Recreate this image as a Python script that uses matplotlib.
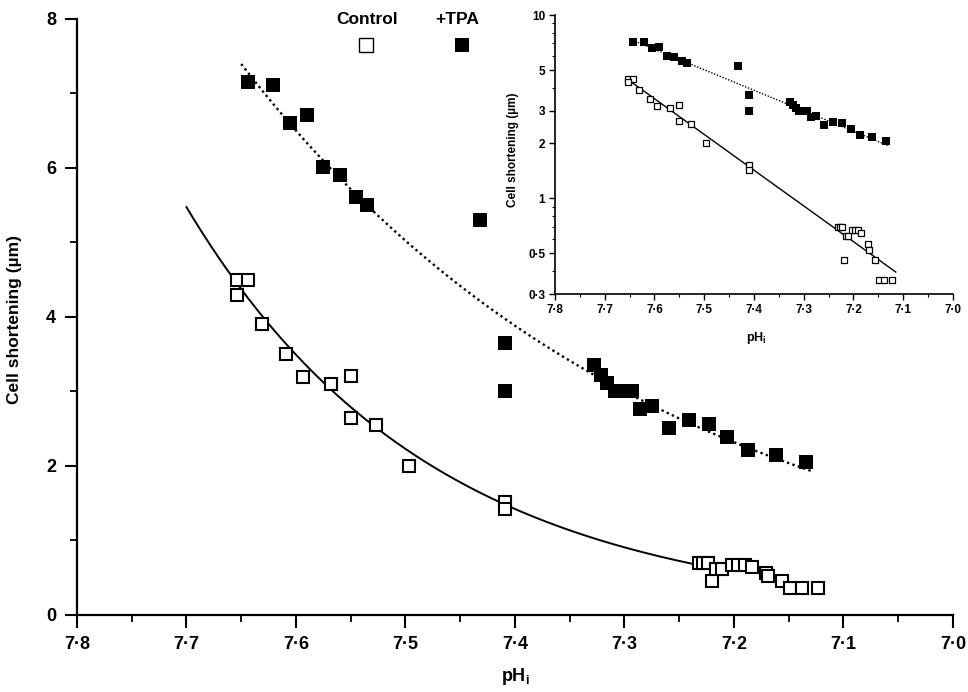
"""Cell shortening versus intracellular pH, control and +TPA, with log-scale inset."""

import matplotlib.pyplot as plt
import numpy as np
from matplotlib.ticker import FixedLocator, FuncFormatter

plt.rcParams["font.family"] = ["Liberation Sans", "DejaVu Sans"]
plt.rcParams["font.weight"] = "bold"
plt.rcParams["mathtext.fontset"] = "custom"
plt.rcParams["mathtext.rm"] = "Liberation Sans:bold"
plt.rcParams["mathtext.bf"] = "Liberation Sans:bold"

# control cells (open squares)
ctrl_ph = [7.654, 7.644, 7.654, 7.631, 7.609, 7.594, 7.568, 7.550, 7.550, 7.527,
           7.497, 7.409, 7.409, 7.232, 7.228, 7.224, 7.220, 7.216, 7.211, 7.202,
           7.196, 7.190, 7.184, 7.171, 7.169, 7.156, 7.149, 7.138, 7.123]
ctrl_short = [4.50, 4.50, 4.30, 3.90, 3.50, 3.20, 3.10, 3.21, 2.65, 2.55,
              2.00, 1.52, 1.42, 0.70, 0.70, 0.70, 0.46, 0.62, 0.62, 0.67,
              0.67, 0.67, 0.65, 0.56, 0.52, 0.46, 0.36, 0.36, 0.36]

# cells exposed to TPA (filled squares)
tpa_ph = [7.644, 7.621, 7.605, 7.590, 7.575, 7.560, 7.545, 7.535, 7.432, 7.409,
          7.409, 7.328, 7.321, 7.316, 7.309, 7.301, 7.293, 7.286, 7.275, 7.259,
          7.241, 7.223, 7.206, 7.187, 7.162, 7.134]
tpa_short = [7.16, 7.11, 6.61, 6.71, 6.01, 5.91, 5.61, 5.50, 5.30, 3.65,
             3.01, 3.36, 3.22, 3.12, 3.01, 3.01, 3.01, 2.76, 2.81, 2.51,
             2.62, 2.56, 2.39, 2.21, 2.15, 2.06]

# pH ranges over which the exponential fits are drawn
ctrl_fit_main = (7.70, 7.22)
ctrl_fit_inset = (7.65, 7.115)
tpa_fit_main = (7.65, 7.13)
tpa_fit_inset = (7.645, 7.13)

main_yticks = [0, 2, 4, 6, 8]
inset_yticks = [0.3, 0.5, 1, 2, 3, 5, 10]
inset_yticklabels = ["0·3", "0·5", "1", "2", "3", "5", "10"]
ph_ticks = [7.8, 7.7, 7.6, 7.5, 7.4, 7.3, 7.2, 7.1, 7.0]


def exp_fit(x, y):
    # straight line through log(y), i.e. a single exponential in pH
    k, b = np.polyfit(np.asarray(x), np.log(np.asarray(y)), 1)
    return lambda v: np.exp(k * v + b)


def fit_curve(fit, span, n=200):
    xs = np.linspace(span[0], span[1], n)
    return xs, fit(xs)


def dot_fmt(v, _pos=None):
    return f"{v:.1f}".replace(".", "·")


ctrl_fit = exp_fit(ctrl_ph, ctrl_short)
tpa_fit = exp_fit(tpa_ph, tpa_short)

fig = plt.figure(figsize=(9.68, 6.92), dpi=100)

# ---- main panel ----
ax = fig.add_axes([0.0795, 0.1113, 0.9050, 0.8613])
ax.set_xlim(7.8, 7.0)
ax.set_ylim(0, 8)
for s in ("top", "right"):
    ax.spines[s].set_visible(False)
for s in ("left", "bottom"):
    ax.spines[s].set_linewidth(1.6)

xs, ys = fit_curve(ctrl_fit, ctrl_fit_main)
ax.plot(xs, ys, color="black", lw=1.4, zorder=2)
xs, ys = fit_curve(tpa_fit, tpa_fit_main)
ax.plot(xs, ys, color="black", lw=1.7, linestyle=(0, (1.0, 1.4)), zorder=2)

ax.plot(ctrl_ph, ctrl_short, linestyle="none", marker="s", ms=9.2,
        mfc="white", mec="black", mew=1.5, zorder=3)
ax.plot(tpa_ph, tpa_short, linestyle="none", marker="s", ms=10.6,
        mfc="black", mec="black", mew=0, zorder=4)

ax.xaxis.set_major_locator(FixedLocator(ph_ticks))
ax.xaxis.set_minor_locator(FixedLocator(np.arange(7.05, 7.8, 0.1)))
ax.xaxis.set_major_formatter(FuncFormatter(dot_fmt))
ax.yaxis.set_major_locator(FixedLocator(main_yticks))
ax.yaxis.set_minor_locator(FixedLocator([1, 3, 5, 7]))
ax.tick_params(which="major", direction="out", length=9, width=1.5,
               labelsize=13, pad=6)
ax.tick_params(which="minor", direction="out", length=5, width=1.3)
for lab in ax.get_xticklabels() + ax.get_yticklabels():
    lab.set_fontweight("bold")

ax.set_ylabel("Cell shortening (µm)", fontsize=12.5, fontweight="bold")
ax.yaxis.set_label_coords(-0.063, 0.495)
ax.set_xlabel(r"pH$_\mathbf{i}$", fontsize=13, fontweight="bold")
ax.xaxis.set_label_coords(0.5, -0.085)

# legend key drawn by hand above the curves
fig.text(367 / 968, 1 - 19 / 692, "Control", ha="center", va="center",
         fontsize=12.5, fontweight="bold")
fig.text(457 / 968, 1 - 19 / 692, "+TPA", ha="center", va="center",
         fontsize=12.5, fontweight="bold")
ax.plot([366 / 968], [1 - 45 / 692], transform=fig.transFigure, clip_on=False,
        marker="s", ms=10, mfc="white", mec="black", mew=1.0, linestyle="none")
ax.plot([462 / 968], [1 - 45 / 692], transform=fig.transFigure, clip_on=False,
        marker="s", ms=10.6, mfc="black", mec="black", mew=0, linestyle="none")

# ---- inset, log scale ----
ins = fig.add_axes([0.5733, 0.5751, 0.4112, 0.4032])
ins.set_yscale("log")
ins.set_xlim(7.8, 7.0)
ins.set_ylim(0.3, 10)
for s in ("top", "right"):
    ins.spines[s].set_visible(False)
for s in ("left", "bottom"):
    ins.spines[s].set_linewidth(1.2)

xs, ys = fit_curve(ctrl_fit, ctrl_fit_inset)
ins.plot(xs, ys, color="black", lw=1.0, zorder=2)
xs, ys = fit_curve(tpa_fit, tpa_fit_inset)
ins.plot(xs, ys, color="black", lw=1.0, linestyle=(0, (1.0, 1.2)), zorder=2)

ins.plot(ctrl_ph, ctrl_short, linestyle="none", marker="s", ms=5.0,
         mfc="white", mec="black", mew=0.9, zorder=3)
ins.plot(tpa_ph, tpa_short, linestyle="none", marker="s", ms=5.6,
         mfc="black", mec="black", mew=0, zorder=4)

ins.xaxis.set_major_locator(FixedLocator(ph_ticks))
ins.xaxis.set_minor_locator(FixedLocator(np.arange(7.05, 7.8, 0.1)))
ins.xaxis.set_major_formatter(FuncFormatter(dot_fmt))
ins.yaxis.set_major_locator(FixedLocator(inset_yticks))
ins.yaxis.set_minor_locator(FixedLocator([0.4, 0.6, 0.7, 0.8, 0.9, 4, 6, 7, 8, 9]))
ins.set_yticklabels(inset_yticklabels)
ins.tick_params(which="major", direction="out", length=4, width=1.0,
                labelsize=8.5, pad=3)
ins.tick_params(which="minor", direction="out", length=2.5, width=0.8)
for lab in ins.get_xticklabels() + ins.get_yticklabels():
    lab.set_fontweight("bold")

ins.set_ylabel("Cell shortening (µm)", fontsize=8.5, fontweight="bold")
ins.yaxis.set_label_coords(-0.09, 0.516)
ins.set_xlabel(r"pH$_\mathbf{i}$", fontsize=9, fontweight="bold")
ins.xaxis.set_label_coords(0.505, -0.13)

fig.savefig("out.png", dpi=100)
